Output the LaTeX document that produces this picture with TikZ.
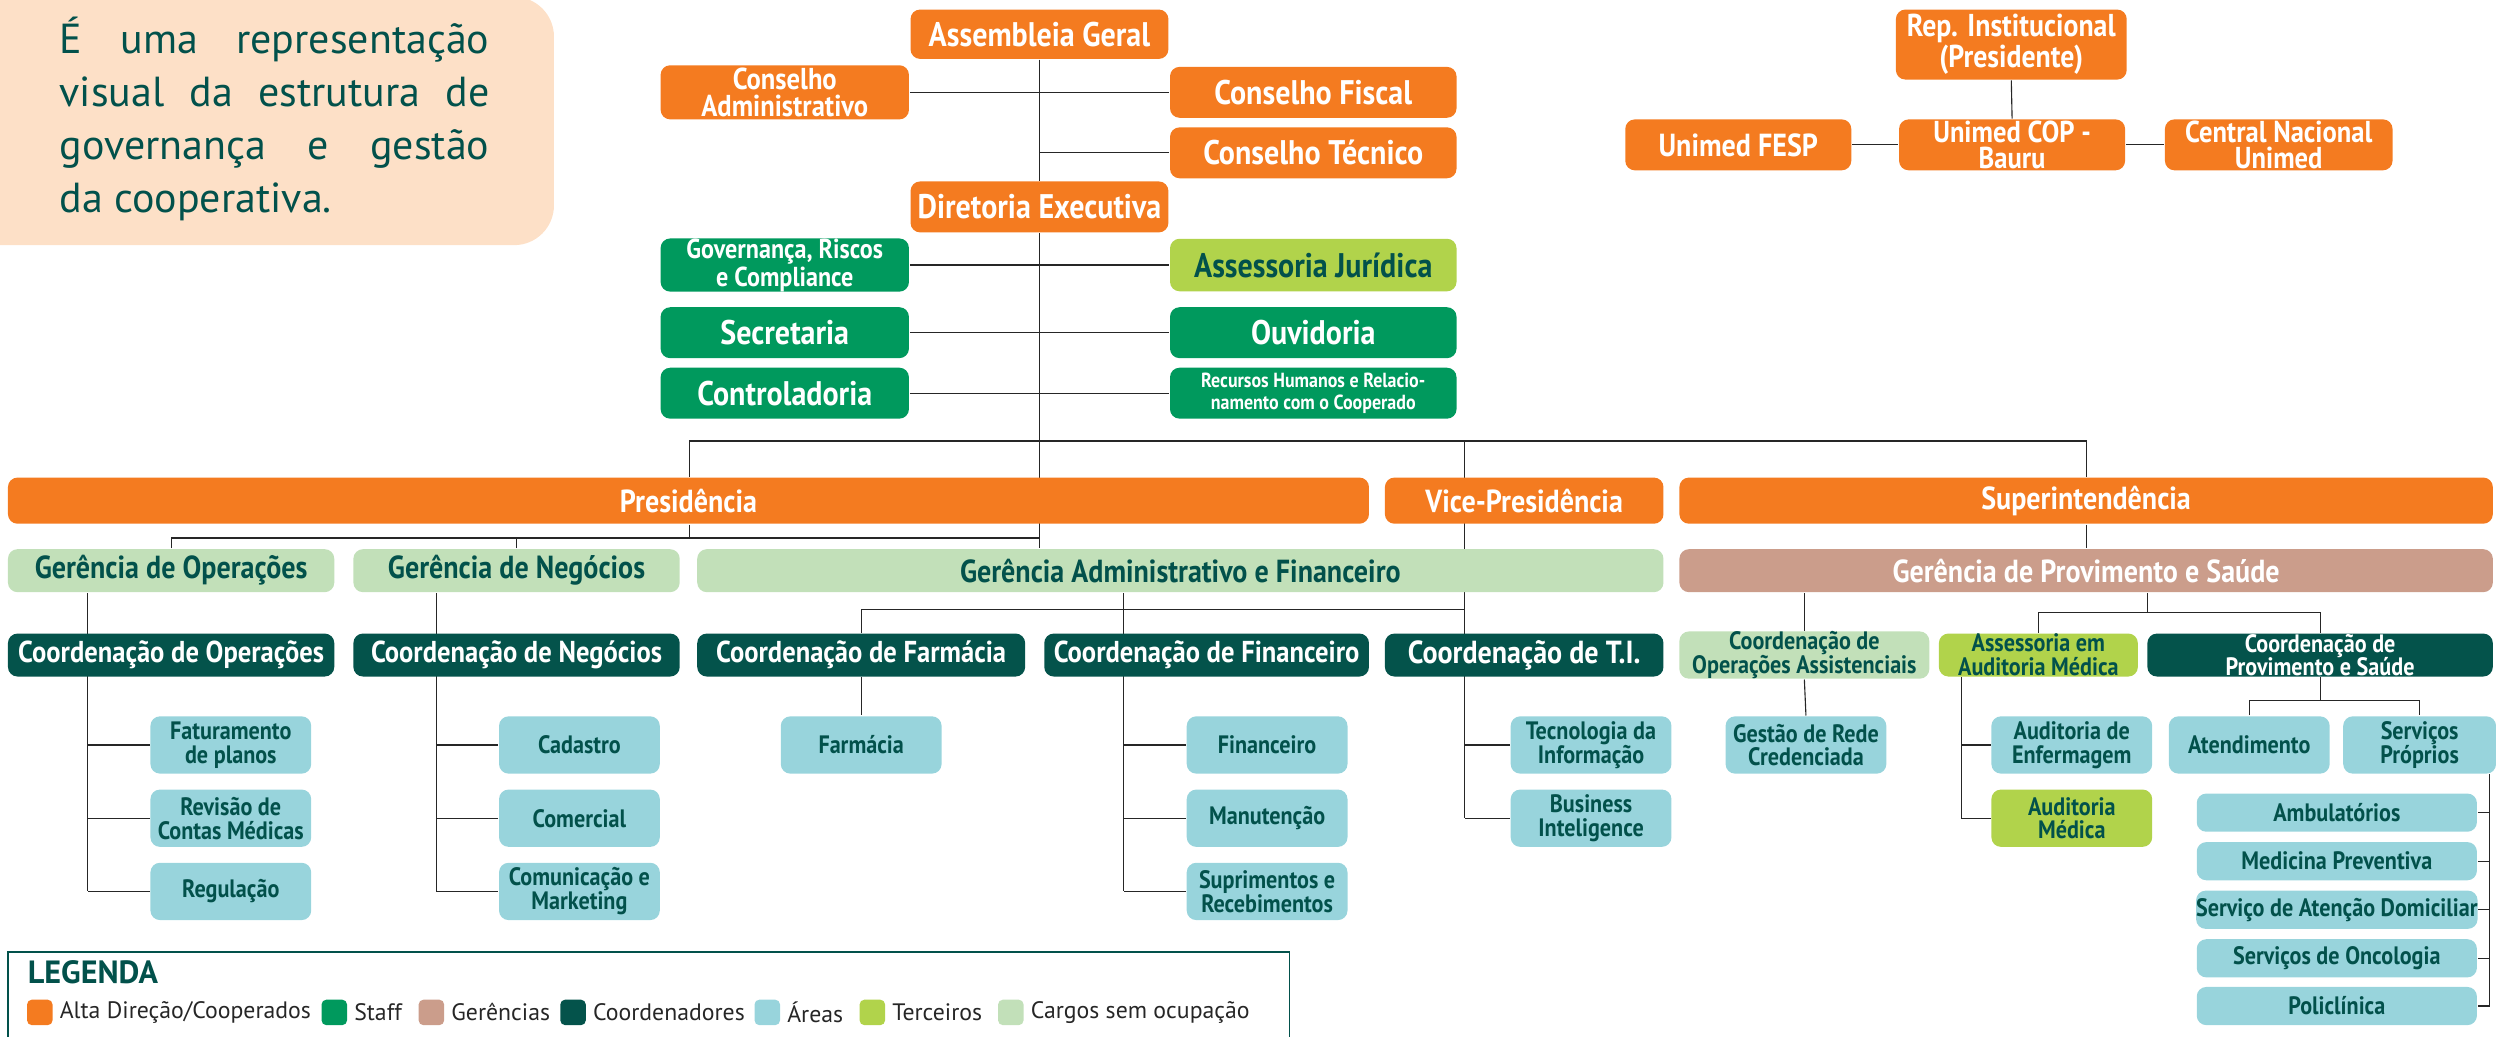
\documentclass[tikz,border=0pt]{standalone}
\usepackage{fontspec}
\setmainfont{PT Sans}
\newfontfamily\boxfont{PT Sans}[FakeStretch=0.88]
\usetikzlibrary{positioning, backgrounds}

\definecolor{uorange}{HTML}{F47B20}
\definecolor{ugreen}{HTML}{00995D}
\definecolor{upink}{HTML}{CB9D8B}
\definecolor{uteal}{HTML}{04534B}
\definecolor{ulight}{HTML}{98D4DC}
\definecolor{ulime}{HTML}{B1D34B}
\definecolor{upale}{HTML}{C2E0B9}
\definecolor{udark}{HTML}{02514B}
\definecolor{upeach}{HTML}{FDE0C7}

\tikzset{
  box/.style={rounded corners=0.12cm, inner sep=0pt, align=center},
  bw/.style={minimum width=#1*0.02cm},
  bh/.style={minimum height=#1*0.02cm},
  ltop/.style={font=\boxfont\bfseries\fontsize{12.2}{11}\selectfont},
  lrow/.style={font=\boxfont\bfseries\fontsize{11.4}{11}\selectfont},
  lcoord/.style={font=\boxfont\bfseries\fontsize{10.8}{10}\selectfont},
  lmid/.style={font=\boxfont\bfseries\fontsize{10.8}{9.6}\selectfont},
  lsmall/.style={font=\boxfont\bfseries\fontsize{9}{8.5}\selectfont},
  ltiny/.style={font=\boxfont\bfseries\fontsize{7.3}{7.6}\selectfont},
  alta/.style={box, fill=uorange, text=white},
  staff/.style={box, fill=ugreen, text=white},
  geren/.style={box, fill=upink, text=white},
  coord/.style={box, fill=uteal, text=white},
  area/.style={box, fill=ulight, text=udark, lsmall, bw=101, bh=36},
  terc/.style={box, fill=ulime, text=udark},
  vago/.style={box, fill=upale, text=udark},
  sub/.style={area, bw=176, bh=24},
  swatch/.style={rounded corners=0.06cm, minimum size=16*0.02cm, inner sep=0pt},
  legtext/.style={inner sep=0pt, font=\fontsize{8.5}{10}\selectfont, text=black!85}
}

\begin{document}
\begin{tikzpicture}[x=0.02cm, y=-0.02cm, line width=0.6pt,
    conn/.style={draw=black!85}
  ]
  \clip (0,0) rectangle (1568,651.4);

  % intro
  \path[fill=upeach, rounded corners=0.5cm] (-40,-2) rectangle (348,154);
  \node[anchor=north west, inner sep=0pt, text width=5.4cm, align=justify, text=udark,
    font=\fontsize{15}{19}\selectfont] (intro) at (37,10)
    {É uma representação\linebreak visual da estrutura de\linebreak governança e gestão\linebreak da cooperativa.};

  % conselhos e diretoria
  \node[alta, ltop, bw=162, bh=31] (assembleia) at (653,21.5) {Assembleia Geral};
  \node[alta, lmid, bw=156, bh=34] (consadm) at (493,58) {Conselho\\Administrativo};
  \node[alta, ltop, bw=180, bh=32] (consfiscal) at (825,58) {Conselho Fiscal};
  \node[alta, ltop, bw=180, bh=32] (constec) at (825,96) {Conselho Técnico};
  \node[alta, ltop, bw=162, bh=32] (diretoria) at (653,130) {Diretoria Executiva};

  % staff
  \node[staff, font=\boxfont\bfseries\fontsize{9.8}{8.6}\selectfont, bw=156, bh=33] (governanca) at (493,166.5) {Governança, Riscos\\e Compliance};
  \node[terc, ltop, bw=180, bh=33] (juridica) at (825,166.5) {Assessoria Jurídica};
  \node[staff, ltop, bw=156, bh=32] (secretaria) at (493,209) {Secretaria};
  \node[staff, ltop, bw=180, bh=32] (ouvidoria) at (825,209) {Ouvidoria};
  \node[staff, ltop, bw=156, bh=32] (controladoria) at (493,247) {Controladoria};
  \node[staff, ltiny, bw=180, bh=32] (rh) at (825,247) {Recursos Humanos e Relacio-\\namento com o Cooperado};

  % representacao institucional
  \node[alta, font=\boxfont\bfseries\fontsize{11.3}{11}\selectfont, bw=145, bh=44] (repinst) at (1263.5,28) {Rep. Institucional\\(Presidente)};
  \node[alta, lrow, bw=142, bh=32] (fesp) at (1092,91) {Unimed FESP};
  \node[alta, lmid, bw=142, bh=32] (cop) at (1264,91) {Unimed COP -\\Bauru};
  \node[alta, lmid, bw=143, bh=32] (central) at (1431.5,91) {Central Nacional\\Unimed};

  % presidencia, vice, superintendencia
  \node[alta, lrow, bw=855, bh=29] (presid) at (432.5,314.5) {Presidência};
  \node[alta, lrow, bw=175, bh=29] (vice) at (957.5,314.5) {Vice-Presidência};
  \node[alta, lrow, bw=511, bh=29] (super) at (1310.5,314.5) {Superintendência};

  % gerencias
  \node[vago, lrow, bw=205, bh=27] (gop) at (107.5,358.5) {Gerência de Operações};
  \node[vago, lrow, bw=205, bh=27] (gneg) at (324.5,358.5) {Gerência de Negócios};
  \node[vago, lrow, bw=607, bh=27] (gadm) at (741.5,358.5) {Gerência Administrativo e Financeiro};
  \node[geren, lrow, bw=511, bh=27] (gprov) at (1310.5,358.5) {Gerência de Provimento e Saúde};

  % coordenacoes
  \node[coord, lcoord, bw=205, bh=27] (coordop) at (107.5,411.5) {Coordenação de Operações};
  \node[coord, lcoord, bw=205, bh=27] (coordneg) at (324.5,411.5) {Coordenação de Negócios};
  \node[coord, lcoord, bw=206, bh=27] (coordfarm) at (541,411.5) {Coordenação de Farmácia};
  \node[coord, lcoord, bw=204, bh=27] (coordfin) at (758,411.5) {Coordenação de Financeiro};
  \node[coord, lrow, bw=175, bh=27] (coordti) at (957.5,411.5) {Coordenação de T.I.};
  \node[vago, lsmall, bw=157, bh=27] (coordassist) at (1133.5,411.5) {Coordenação de\\Operações Assistenciais};
  \node[terc, lsmall, bw=125, bh=27] (assaud) at (1280.5,411.5) {Assessoria em\\Auditoria Médica};
  \node[coord, lsmall, bw=217, bh=27] (coordprov) at (1457.5,411.5) {Coordenação de\\Provimento e Saúde};

  % areas
  \node[area] (fat) at (145,468) {Faturamento\\de planos};
  \node[area] (rev) at (145,514) {Revisão de\\Contas Médicas};
  \node[area] (reg) at (145,560) {Regulação};
  \node[area] (cad) at (364,468) {Cadastro};
  \node[area] (com) at (364,514) {Comercial};
  \node[area] (mkt) at (364,560) {Comunicação e\\Marketing};
  \node[area] (farm) at (541,468) {Farmácia};
  \node[area] (fin) at (796,468) {Financeiro};
  \node[area] (man) at (796,514) {Manutenção};
  \node[area] (sup) at (796,560) {Suprimentos e\\Recebimentos};
  \node[area] (tec) at (999.5,468) {Tecnologia da\\Informação};
  \node[area] (bi) at (999.5,514) {Business\\Inteligence};
  \node[area] (gestrede) at (1134.5,468) {Gestão de Rede\\Credenciada};
  \node[area] (audenf) at (1301.5,468) {Auditoria de\\Enfermagem};
  \node[area, terc] (audmed) at (1301.5,514) {Auditoria\\Médica};
  \node[area] (atend) at (1413,468) {Atendimento};
  \node[area, bw=96] (servprop) at (1520,468) {Serviços\\Próprios};
  \node[sub] (amb) at (1468,510.5) {Ambulatórios};
  \node[sub] (medprev) at (1468,541) {Medicina Preventiva};
  \node[sub] (domic) at (1468,571.5) {Serviço de Atenção Domiciliar};
  \node[sub] (onco) at (1468,602) {Serviços de Oncologia};
  \node[sub] (polic) at (1468,632) {Policlínica};

  % connectors
  \coordinate (topbus) at (433,277);
  \coordinate (gbus) at (0,338);
  \coordinate (cbus) at (0,383);
  \coordinate (pbus) at (1349,385);
  \coordinate (sbus) at (0,440);
  \coordinate (opline) at (55,0);
  \coordinate (negline) at (274,0);
  \coordinate (finline) at (706,0);
  \coordinate (tiline) at (920,0);
  \coordinate (audline) at (1232,0);
  \coordinate (listline) at (1564,0);

  \begin{scope}[on background layer]
    \draw[conn] (assembleia.south) -- (diretoria.north);
    \draw[conn] (consadm.east) -- (consfiscal.west);
    \draw[conn] (constec.west) -- (constec.west -| assembleia.south);
    \draw[conn] (diretoria.south) -- (diretoria.south |- gadm.north);
    \draw[conn] (governanca.east) -- (juridica.west);
    \draw[conn] (secretaria.east) -- (ouvidoria.west);
    \draw[conn] (controladoria.east) -- (rh.west);

    \draw[conn] (repinst.south) -- (cop.north);
    \draw[conn] (fesp.east) -- (cop.west);
    \draw[conn] (cop.east) -- (central.west);

    \draw[conn] (topbus |- presid.north) -- (topbus) -- (topbus -| super.north) -- (super.north);
    \draw[conn] (topbus |- presid.south) -- (topbus |- gbus);
    \draw[conn] (gop.north) -- (gop.north |- gbus) -- (gbus -| diretoria.south);
    \draw[conn] (gneg.north) -- (gneg.north |- gbus);
    \draw[conn] (topbus -| tiline) -- (tiline |- bi.west);

    \draw[conn] (coordfarm.north) -- (coordfarm.north |- cbus) -- (cbus -| tiline);
    \draw[conn] (finline |- gadm.south) -- (finline |- sup.west);
    \draw[conn] (coordfarm.south) -- (farm.north);

    \draw[conn] (opline |- gop.south) -- (opline |- reg.west);
    \draw[conn] (negline |- gneg.south) -- (negline |- mkt.west);
    \draw[conn] (fat.west) -- (fat.west -| opline);
    \draw[conn] (rev.west) -- (rev.west -| opline);
    \draw[conn] (reg.west) -- (reg.west -| opline);
    \draw[conn] (cad.west) -- (cad.west -| negline);
    \draw[conn] (com.west) -- (com.west -| negline);
    \draw[conn] (mkt.west) -- (mkt.west -| negline);
    \draw[conn] (fin.west) -- (fin.west -| finline);
    \draw[conn] (man.west) -- (man.west -| finline);
    \draw[conn] (sup.west) -- (sup.west -| finline);
    \draw[conn] (tec.west) -- (tec.west -| tiline);
    \draw[conn] (bi.west) -- (bi.west -| tiline);

    \draw[conn] (super.south) -- (gprov.north);
    \draw[conn] (coordassist.north |- gprov.south) -- (coordassist.north);
    \draw[conn] (coordassist.south) -- (gestrede.north);
    \draw[conn] (pbus |- gprov.south) -- (pbus);
    \draw[conn] (assaud.north) -- (assaud.north |- pbus) -- (pbus -| coordprov.north) -- (coordprov.north);
    \draw[conn] (audline |- assaud.south) -- (audline |- audmed.west);
    \draw[conn] (audenf.west) -- (audenf.west -| audline);
    \draw[conn] (audmed.west) -- (audmed.west -| audline);
    \draw[conn] (coordprov.south) -- (coordprov.south |- sbus);
    \draw[conn] (atend.north) -- (atend.north |- sbus) -- (sbus -| servprop.north) -- (servprop.north);
    \draw[conn] (listline |- servprop.south) -- (listline |- polic.east);
    \draw[conn] (amb.east) -- (amb.east -| listline);
    \draw[conn] (medprev.east) -- (medprev.east -| listline);
    \draw[conn] (domic.east) -- (domic.east -| listline);
    \draw[conn] (onco.east) -- (onco.east -| listline);
    \draw[conn] (polic.east) -- (polic.east -| listline);
  \end{scope}

  % legenda
  \draw[udark, line width=0.6pt] (5,598) rectangle (810,680);
  \node[anchor=west, inner sep=0pt, text=udark, font=\bfseries\fontsize{11.5}{11}\selectfont] (legtitle) at (17,611) {LEGENDA};
  \node[swatch, fill=uorange] (sw1) at (25,636) {};
  \node[legtext, right=2pt of sw1] (lg1) {Alta Direção/Cooperados};
  \node[swatch, fill=ugreen] (sw2) at (210,636) {};
  \node[legtext, right=2pt of sw2] (lg2) {Staff};
  \node[swatch, fill=upink] (sw3) at (271,636) {};
  \node[legtext, right=2pt of sw3] (lg3) {Gerências};
  \node[swatch, fill=uteal] (sw4) at (360,636) {};
  \node[legtext, right=2pt of sw4] (lg4) {Coordenadores};
  \node[swatch, fill=ulight] (sw5) at (482,636) {};
  \node[legtext, right=2pt of sw5] (lg5) {Áreas};
  \node[swatch, fill=ulime] (sw6) at (548,636) {};
  \node[legtext, right=2pt of sw6] (lg6) {Terceiros};
  \node[swatch, fill=upale] (sw7) at (635,636) {};
  \node[legtext, right=2pt of sw7] (lg7) {Cargos sem ocupação};

\end{tikzpicture}
\end{document}
